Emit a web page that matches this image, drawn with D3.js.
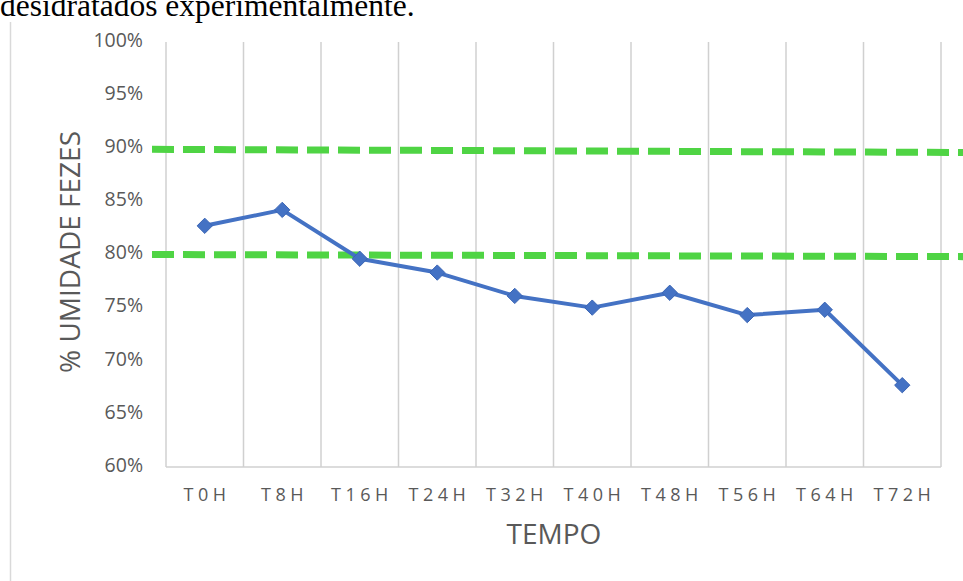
<!DOCTYPE html>
<html>
<head>
<meta charset="utf-8">
<script src="https://cdn.jsdelivr.net/npm/d3@7"></script>
<style>
  html, body { margin: 0; padding: 0; background: #fff; }
  svg { display: block; }
</style>
</head>
<body>
<svg id="chart" width="963" height="581"></svg>
<script>
// Fecal moisture over dehydration time
const categories = ["T0H", "T8H", "T16H", "T24H", "T32H", "T40H", "T48H", "T56H", "T64H", "T72H"];
const moisture = [82.7, 84.2, 79.6, 78.3, 76.1, 75.0, 76.4, 74.3, 74.8, 67.7];
const yTicks = [60, 65, 70, 75, 80, 85, 90, 95, 100];
// Reference bands (start / end values of each dashed line)
const limitStart = [89.9, 80.0];
const limitEnd = [89.6, 79.8];

const svg = d3.select("#chart");
const W = 963, H = 581;
const plot = { left: 166, right: 941, top: 42, bottom: 467 };
const grey = "#595959";
const font = "'Open Sans', 'Noto Sans', sans-serif";
const xSpacing = 4.5;

// Caption fragment above the chart
svg.append("text")
  .attr("x", 0).attr("y", 16)
  .attr("font-family", "'Liberation Serif', 'Times New Roman', serif")
  .attr("font-size", 31.5)
  .attr("fill", "#000")
  .text("desidratados experimentalmente.");

// Chart frame (left edge)
svg.append("line")
  .attr("x1", 10.5).attr("x2", 10.5).attr("y1", 22).attr("y2", H)
  .attr("stroke", "#d9d9d9").attr("stroke-width", 1.5);

const x = d3.scaleBand().domain(categories).range([plot.left, plot.right]);
const y = d3.scaleLinear().domain([60, 100]).range([plot.bottom, plot.top]);

// Vertical gridlines at category boundaries
const bounds = categories.map(c => x(c)).concat([plot.right]);
svg.append("g").selectAll("line").data(bounds).join("line")
  .attr("x1", d => d).attr("x2", d => d)
  .attr("y1", plot.top).attr("y2", plot.bottom)
  .attr("stroke", "#d0d0d0").attr("stroke-width", 1.5);

// Bottom axis line
svg.append("line")
  .attr("x1", plot.left).attr("x2", plot.right)
  .attr("y1", plot.bottom).attr("y2", plot.bottom)
  .attr("stroke", "#d0d0d0").attr("stroke-width", 1.5);

// Y axis tick labels
const yAxis = d3.axisLeft(y).tickValues(yTicks).tickSize(0).tickPadding(23)
  .tickFormat(d => d + "%");
svg.append("g").attr("transform", `translate(${plot.left},0)`).call(yAxis)
  .call(g => g.select(".domain").remove())
  .selectAll("text")
  .attr("font-family", font).attr("font-size", 19.5).attr("fill", grey)
  .attr("dy", "0.22em");

// X axis tick labels (letter-spaced)
const xAxis = d3.axisBottom(x).tickSize(0).tickPadding(0);
svg.append("g").attr("transform", `translate(0,${plot.bottom})`).call(xAxis)
  .call(g => g.select(".domain").remove())
  .selectAll("text")
  .attr("font-family", font).attr("font-size", 18).attr("fill", grey)
  .attr("letter-spacing", xSpacing + "px")
  .attr("y", 34).attr("dy", 0)
  .attr("dx", xSpacing / 2);

// Axis titles
svg.append("text")
  .attr("transform", `translate(80,${252}) rotate(-90)`)
  .attr("text-anchor", "middle")
  .attr("font-family", font).attr("font-size", 28).attr("fill", grey)
  .text("% UMIDADE FEZES");
svg.append("text")
  .attr("x", 554).attr("y", 544)
  .attr("text-anchor", "middle")
  .attr("font-family", font).attr("font-size", 28).attr("fill", grey)
  .text("TEMPO");

// Dashed limit lines
svg.append("g").selectAll("line").data(limitStart).join("line")
  .attr("x1", 152).attr("x2", W)
  .attr("y1", d => y(d)).attr("y2", (d, i) => y(limitEnd[i]))
  .attr("stroke", "#4fd444").attr("stroke-width", 7)
  .attr("stroke-dasharray", "22 9");

// Moisture series
const pts = categories.map((c, i) => [x(c) + x.bandwidth() / 2, y(moisture[i])]);
svg.append("path")
  .attr("d", d3.line()(pts))
  .attr("fill", "none").attr("stroke", "#4472c4").attr("stroke-width", 4)
  .attr("stroke-linejoin", "round");

svg.append("g").selectAll("path").data(pts).join("path")
  .attr("transform", d => `translate(${d[0]},${d[1]})`)
  .attr("d", d3.symbol(d3.symbolDiamond2, 150))
  .attr("fill", "#4472c4").attr("stroke", "#3a65b5").attr("stroke-width", 1);
</script>
</body>
</html>
